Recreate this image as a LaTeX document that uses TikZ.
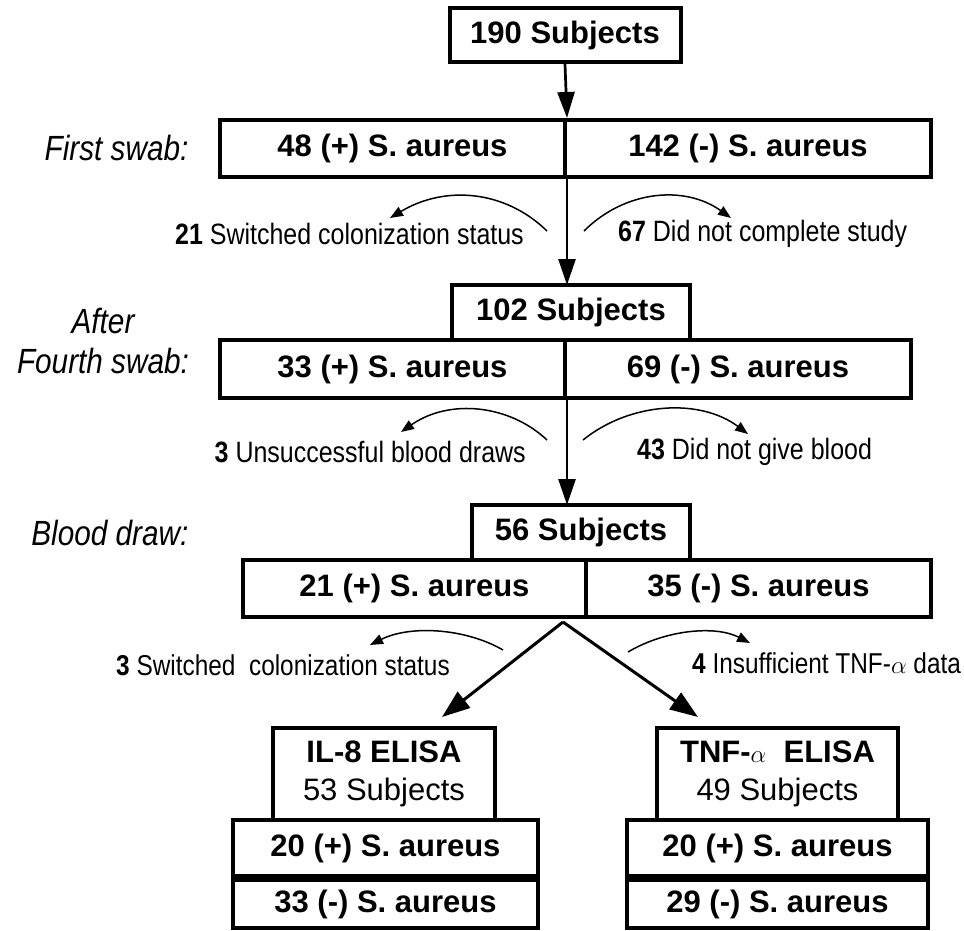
\documentclass[tikz,border=0pt]{standalone}
\usepackage{fontspec}
\setmainfont{Liberation Sans}
\newfontfamily\narrowsans[FakeStretch=0.85]{Liberation Sans}
\usetikzlibrary{arrows.meta}
\tikzset{
  cellbox/.style={draw, line width=4pt, inner sep=0pt, font=\bfseries\fontsize{31}{33}\selectfont},
  sidelabel/.style={font=\narrowsans\itshape\fontsize{35}{40}\selectfont, align=center},
  smalllabel/.style={font=\narrowsans\fontsize{29.4}{30}\selectfont, inner sep=0pt},
  lowlabel/.style={font=\narrowsans\fontsize{28.7}{30}\selectfont, inner sep=0pt},
  bigarrow/.style={line width=2.7pt, -{Triangle[length=26pt,width=17pt]}},
  diagarrow/.style={line width=3pt, -{Triangle[length=28pt,width=20pt]}},
  arcarrow/.style={line width=1.5pt, -{Triangle[length=13pt,width=10pt]}},
}
\begin{document}
\begin{tikzpicture}[x=1pt,y=-1pt]
\useasboundingbox (0,0) rectangle (964,931);
% row 1
\node[cellbox, minimum width=231pt, minimum height=54pt] (n190) at (565,35) {190 Subjects};
\node[cellbox, minimum width=345pt, minimum height=57pt] (fsL) at (392.5,148.5) {48 (+) S. aureus};
\node[cellbox, minimum width=366pt, minimum height=57pt] (fsR) at (748,148.5) {142 (-) S. aureus};
\node[sidelabel, anchor=east] (lblFS) at (192,148) {First swab:};
\draw[bigarrow] (n190.south) -- (fsL.north east);
% first branch labels
\node[smalllabel, anchor=east] (l21) at (524,234) {\textbf{21} Switched colonization status};
\node[smalllabel, anchor=west] (l67) at (618,234) {\textbf{67} Did not complete study};
\coordinate (a1s) at (547,231); \coordinate (a1e) at (390,218);
\coordinate (a2s) at (584,231); \coordinate (a2e) at (731,218);
\draw[arcarrow] (a1s) .. controls (505,190) and (445,185) .. (a1e);
\draw[arcarrow] (a2s) .. controls (625,190) and (685,185) .. (a2e);
\draw[bigarrow] (fsL.south east) -- (fsL.south east |- 0,285);
% row 2
\node[cellbox, minimum width=238pt, minimum height=55pt] (n102) at (571,312.5) {102 Subjects};
\node[cellbox, minimum width=345pt, minimum height=58pt] (f4L) at (392.5,369) {33 (+) S. aureus};
\node[cellbox, minimum width=346pt, minimum height=58pt] (f4R) at (738,369) {69 (-) S. aureus};
\node[sidelabel] (lblF4) at (103,341) {After\\Fourth swab:};
\node[smalllabel, anchor=east] (l3) at (526,452) {\textbf{3} Unsuccessful blood draws};
\node[smalllabel, anchor=west] (l43) at (637,452) {\textbf{43} Did not give blood};
\coordinate (b1s) at (547,440); \coordinate (b1e) at (401,432);
\coordinate (b2s) at (583,440); \coordinate (b2e) at (748,434);
\draw[arcarrow] (b1s) .. controls (510,405) and (450,398) .. (b1e);
\draw[arcarrow] (b2s) .. controls (630,402) and (700,398) .. (b2e);
\draw[bigarrow] (f4L.south east) -- (f4L.south east |- 0,505);
% row 3
\node[cellbox, minimum width=218pt, minimum height=55pt] (n56) at (581,532.5) {56 Subjects};
\node[cellbox, minimum width=343pt, minimum height=57pt] (bdL) at (414.5,588.5) {21 (+) S. aureus};
\node[cellbox, minimum width=345pt, minimum height=57pt] (bdR) at (758.5,588.5) {35 (-) S. aureus};
\node[sidelabel, anchor=east] (lblBD) at (192,533) {Blood draw:};
\coordinate (apex) at (563,622);
\coordinate (tipL) at (442,717);
\coordinate (tipR) at (698,717);
\draw[diagarrow] (apex) -- (tipL);
\draw[diagarrow] (apex) -- (tipR);
\node[lowlabel, anchor=east] (l3b) at (450,665) {\textbf{3} Switched\ \ colonization status};
\node[lowlabel, anchor=west] (l4) at (692,663) {\textbf{4} Insufficient TNF-$\alpha$ data};
\coordinate (c1s) at (503,650); \coordinate (c1e) at (370,645);
\coordinate (c2s) at (628,652); \coordinate (c2e) at (750,643);
\draw[arcarrow] (c1s) .. controls (465,628) and (410,625) .. (c1e);
\draw[arcarrow] (c2s) .. controls (665,630) and (715,625) .. (c2e);
% bottom stacks
\node[cellbox, minimum width=222pt, minimum height=92pt, align=center, font=\fontsize{31}{38}\selectfont] (il8) at (384,774) {\textbf{IL-8 ELISA}\\53 Subjects};
\node[cellbox, minimum width=305pt, minimum height=56pt] (il20) at (385.5,848) {20 (+) S. aureus};
\node[cellbox, minimum width=305pt, minimum height=48pt] (il33) at (385.5,904) {33 (-) S. aureus};
\node[cellbox, minimum width=241pt, minimum height=92pt, align=center, font=\fontsize{31}{38}\selectfont] (tnf) at (777.5,774) {\textbf{TNF-$\alpha$\ \ ELISA}\\49 Subjects};
\node[cellbox, minimum width=301pt, minimum height=56pt] (tn20) at (777.5,848) {20 (+) S. aureus};
\node[cellbox, minimum width=301pt, minimum height=48pt] (tn29) at (777.5,904) {29 (-) S. aureus};
\end{tikzpicture}
\end{document}
